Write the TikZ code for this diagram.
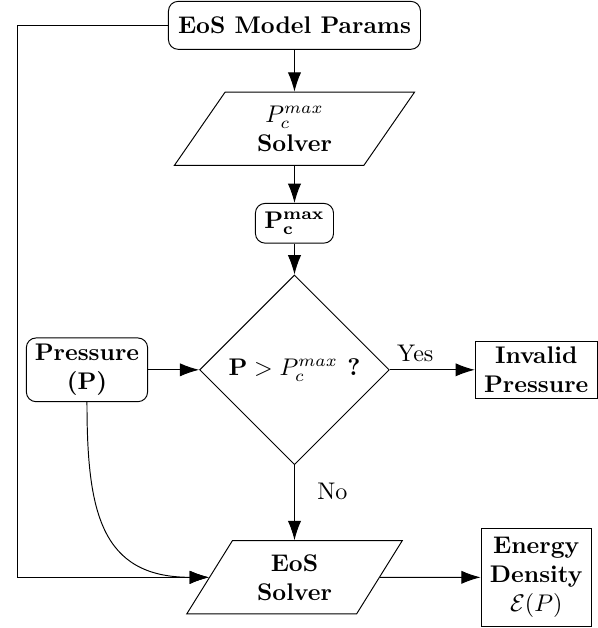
\documentclass[tikz,border=0pt]{standalone}
\usepackage{tikz}
\usetikzlibrary{arrows.meta,shapes.geometric,calc}

\begin{document}
\begin{tikzpicture}[scale=1,
    roundbox/.style={draw,rounded corners=4pt,inner sep=2pt,align=center,font=\bfseries},
    plainbox/.style={draw,inner sep=2pt,align=center,font=\bfseries},
    slantbox/.style={draw,trapezium,trapezium left angle=60,trapezium right angle=120,trapezium stretches=true,inner sep=1pt,align=center,font=\bfseries},
    decision/.style={draw,diamond,inner sep=0pt,minimum width=2.77cm,minimum height=2.77cm,align=center,font=\bfseries},
    flow/.style={-{Latex[length=8pt,width=5.5pt]}}]
    \useasboundingbox(0,0)rectangle(8.73,-9.17);

    \node[roundbox,minimum width=3.68cm,minimum height=0.70cm](params)at(4.30,-0.37){EoS Model Params};
    \node[slantbox,minimum width=3.52cm,minimum height=1.07cm](pcsolver)at(4.30,-1.88){$P_c^{max}$\\Solver};
    \node[roundbox,minimum width=1.14cm,minimum height=0.58cm](pcmax)at(4.30,-3.26){$\mathbf{P_c^{max}}$};
    \node[decision](check)at(4.30,-5.40){$\mathbf{P}>P_c^{max}$ ?};

    \node[roundbox,minimum width=1.77cm,minimum height=0.93cm](pressure)at(1.27,-5.40){Pressure\\(P)};
    \node[plainbox,minimum width=1.78cm,minimum height=0.83cm](invalid)at(7.83,-5.40){Invalid\\Pressure};

    \node[slantbox,minimum width=3.15cm,minimum height=1.07cm](eossolver)at(4.30,-8.43){EoS\\Solver};
    \node[plainbox,minimum width=1.61cm,minimum height=1.43cm](energy)at(7.83,-8.43){Energy\\Density\\$\mathcal{E}(P)$};
    \coordinate(corner)at(0.26,-0.37);

    \draw[flow](params)--(pcsolver);
    \draw[flow](pcsolver)--(pcmax);
    \draw[flow](pcmax)--(check);
    \draw[flow](pressure)--(check);
    \draw[flow](check)--node[pos=0.3,above]{Yes}(invalid);
    \draw[flow](check)--node[pos=0.35,right=6pt]{No}(eossolver);
    \draw[flow](eossolver)--(energy);

    \draw[flow](params.west)--(corner)|-(eossolver.west);
    \draw[flow](pressure.south)to[out=-90,in=180,looseness=1.3](eossolver.west);
\end{tikzpicture}
\end{document}
